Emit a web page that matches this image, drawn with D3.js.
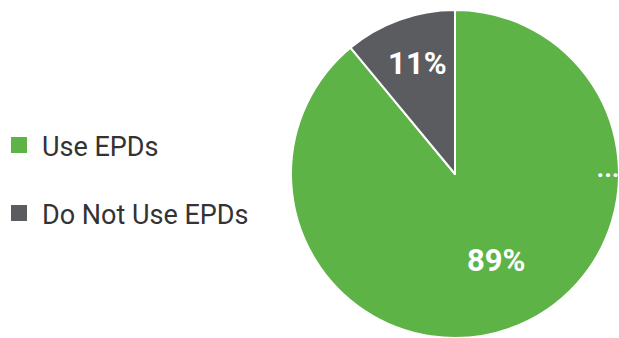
<!DOCTYPE html>
<html>
<head>
<meta charset="utf-8">
<script src="https://cdn.jsdelivr.net/npm/d3@7/dist/d3.min.js"></script>
<style>
  html, body { margin: 0; padding: 0; background: #ffffff; }
  svg { display: block; font-family: Roboto, "Noto Sans", sans-serif; }
</style>
</head>
<body>
<svg id="chart" width="619" height="338"></svg>
<script>
// Share of respondents using Environmental Product Declarations
const categories = ["Use EPDs", "Do Not Use EPDs"];
const values = [89, 11];
const colors = ["#5db346", "#5b5c60"];

const svg = d3.select("#chart");
const cx = 455, cy = 174, R = 164;

const pie = d3.pie().sort(null).value(d => d)(values);
const arc = d3.arc().innerRadius(0).outerRadius(R);

const g = svg.append("g").attr("transform", `translate(${cx},${cy})`);

g.selectAll("path.slice")
  .data(pie)
  .join("path")
  .attr("class", "slice")
  .attr("d", arc)
  .attr("fill", (d, i) => colors[i])
  .attr("stroke", "#ffffff")
  .attr("stroke-width", 2)
  .attr("stroke-linejoin", "round");

// percentage labels, placed near each slice's bisector
const labelRadius = [92, 117];
const labelShift = [10, 2];
g.selectAll("text.pct")
  .data(pie)
  .join("text")
  .attr("class", "pct")
  .attr("transform", (d, i) => {
    const a = d3.arc().innerRadius(labelRadius[i]).outerRadius(labelRadius[i]);
    const [x, y] = a.centroid(d);
    return `translate(${x + labelShift[i]},${y})`;
  })
  .attr("text-anchor", "middle")
  .attr("dominant-baseline", "central")
  .attr("fill", "#ffffff")
  .attr("font-weight", 700)
  .attr("font-size", 31)
  .text((d, i) => values[i] + "%");

// clipped outer label marker on the right edge
g.append("text")
  .attr("x", R - 22)
  .attr("y", 3)
  .attr("fill", "#ffffff")
  .attr("font-weight", 900)
  .attr("font-size", 22)
  .attr("letter-spacing", 1)
  .text("...");

// legend
const legend = svg.append("g").attr("transform", "translate(11,137)");
const item = legend.selectAll("g.item")
  .data(categories)
  .join("g")
  .attr("class", "item")
  .attr("transform", (d, i) => `translate(0,${i * 68})`);

item.append("rect")
  .attr("width", 16)
  .attr("height", 16)
  .attr("fill", (d, i) => colors[i]);

item.append("text")
  .attr("x", 31)
  .attr("y", 19)
  .attr("fill", "#333333")
  .attr("font-size", 27)
  .text(d => d);
</script>
</body>
</html>
